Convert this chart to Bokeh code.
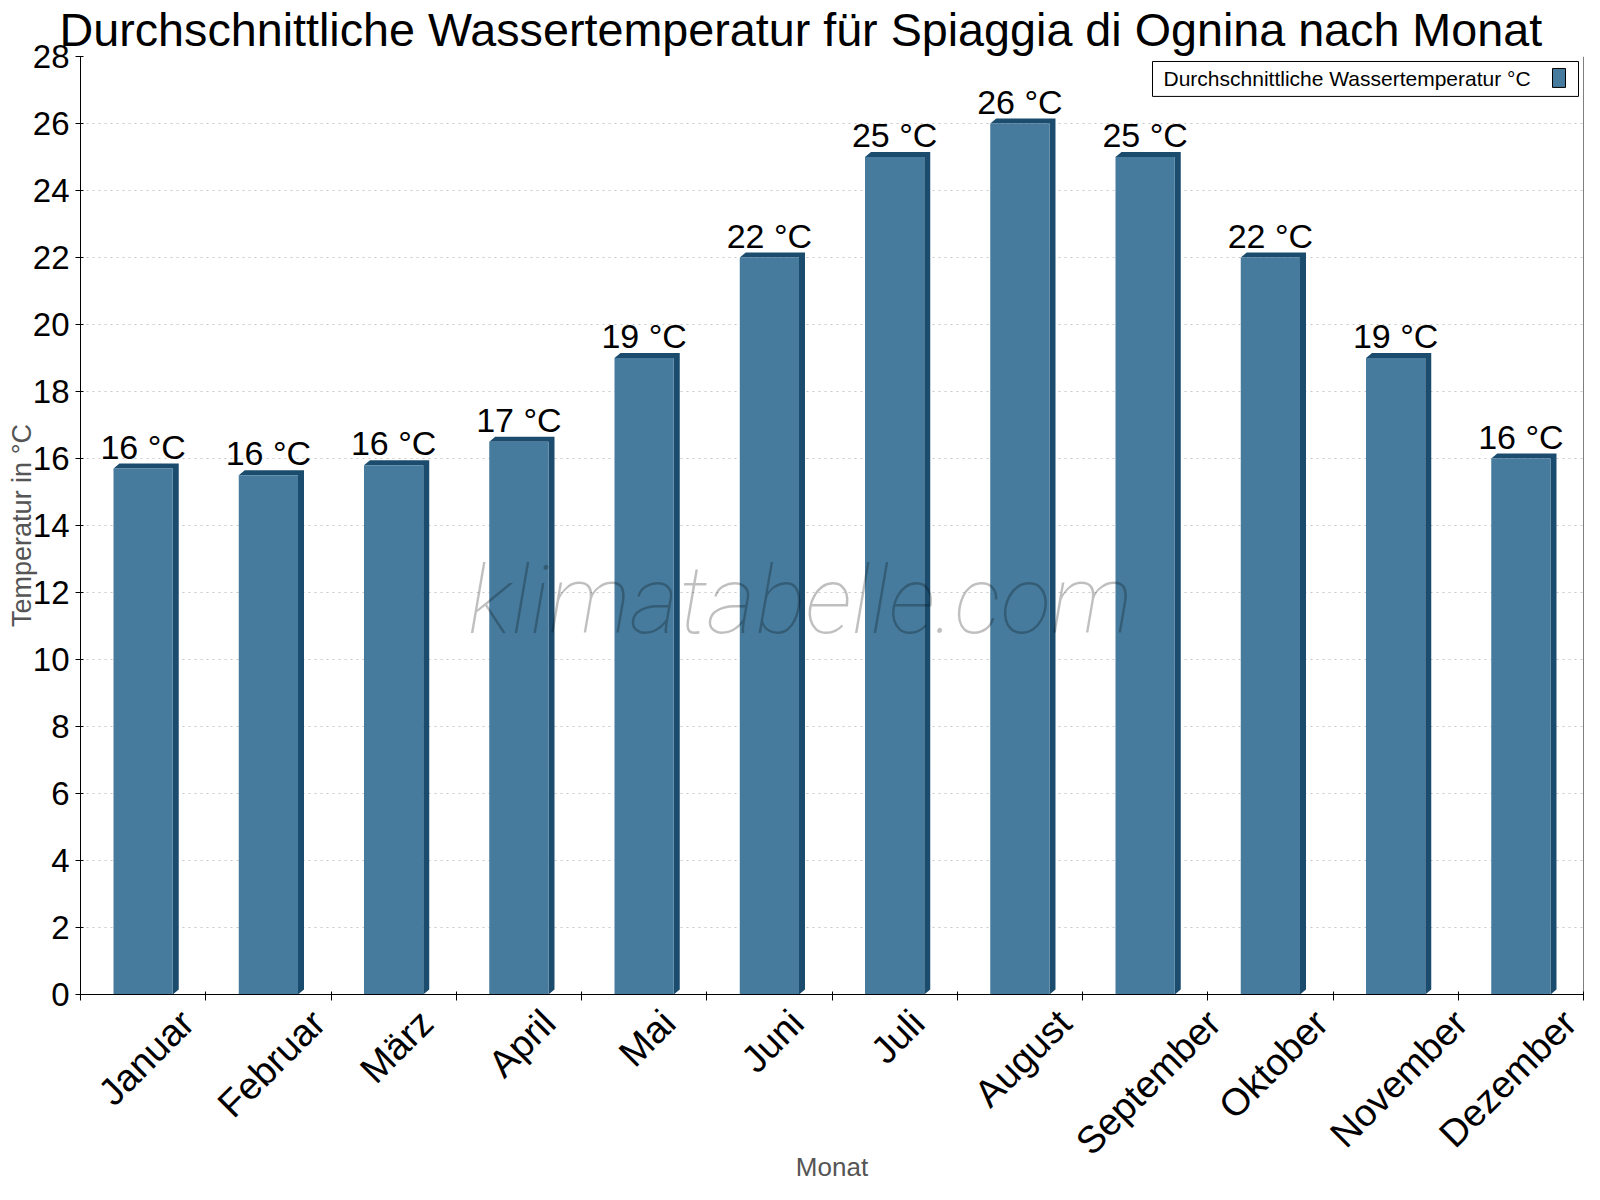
import numpy as np
from bokeh.plotting import figure
from bokeh.models import (Range1d, FixedTicker, ColumnDataSource, LabelSet, Label,
                          Span, BoxAnnotation)
from bokeh.core.properties import value
from bokeh.embed import file_html
from bokeh.resources import INLINE

# ---------------- data ----------------
months = ["Januar", "Februar", "März", "April", "Mai", "Juni", "Juli",
          "August", "September", "Oktober", "November", "Dezember"]
water_temp = [15.7, 15.5, 15.8, 16.5, 19.0, 22.0, 25.0, 26.0, 25.0, 22.0, 19.0, 16.0]
y_ticks = list(range(0, 29, 2))
title_text = "Durchschnittliche Wassertemperatur für Spiaggia di Ognina nach Monat"
series_name = "Durchschnittliche Wassertemperatur °C"
x_axis_title = "Monat"
y_axis_title = "Temperatur in °C"
watermark = "klimatabelle.com"

# ---------------- style ----------------
FONT = "Liberation Sans"
FRONT = "#467b9d"
SIDE = "#1b4c6e"
FIG_W, FIG_H = 1584, 1184
B_LEFT, B_RIGHT, B_TOP, B_BOTTOM = 80, 1, 55, 189
FRAME_W = FIG_W - B_LEFT - B_RIGHT
FRAME_H = FIG_H - B_TOP - B_BOTTOM
N = len(months)
Y_MAX = 28
PX_X = FRAME_W / N
PX_Y = FRAME_H / Y_MAX
BAR_W = 0.473
DX = 6 / PX_X
DY = 5 / PX_Y
XLAB_SIZE = 38      # px, month labels

# Arial / Liberation Sans advance widths (1/1000 em), used to centre the rotated labels
ADV = {"J": 500, "a": 556, "n": 556, "u": 556, "r": 333, "F": 611, "e": 556, "b": 556,
       "M": 833, "ä": 556, "z": 500, "A": 667, "p": 556, "i": 222, "l": 222, "g": 556,
       "s": 500, "t": 278, "S": 667, "m": 833, "O": 778, "k": 500, "o": 556, "N": 722,
       "v": 500, "D": 722}

centers = [i + 0.5 for i in range(N)]
labels = [f"{int(np.floor(v + 0.5))} °C" for v in water_temp]

p = figure(width=FIG_W, height=FIG_H, output_backend="svg", toolbar_location=None,
           x_range=Range1d(0, N), y_range=Range1d(0, Y_MAX),
           min_border_left=B_LEFT, min_border_right=B_RIGHT,
           min_border_top=B_TOP, min_border_bottom=B_BOTTOM,
           outline_line_color=None, background_fill_color="white")

# title (shifted left so it is centred on the page like the reference)
p.title.text = title_text
p.title.text_font = FONT
p.title.text_font_size = "46.7px"
p.title.text_font_style = "normal"
p.title.text_color = "black"
p.title.align = "left"
p.title.offset = -21
p.title.standoff = 2

# grid
p.xgrid.grid_line_color = None
p.ygrid.ticker = FixedTicker(ticks=y_ticks)
p.ygrid.grid_line_color = "#c8c8c8"
p.ygrid.grid_line_dash = "2 4"

# y axis
p.yaxis.ticker = FixedTicker(ticks=y_ticks)
p.yaxis.axis_label = y_axis_title
p.yaxis.axis_label_text_font = FONT
p.yaxis.axis_label_text_font_size = "27px"
p.yaxis.axis_label_text_font_style = "normal"
p.yaxis.axis_label_text_color = "#555555"
p.yaxis.axis_label_standoff = -7
p.yaxis.major_label_text_font = FONT
p.yaxis.major_label_text_font_size = "33px"
p.yaxis.major_label_text_color = "black"
p.yaxis.major_label_standoff = 6
p.yaxis.major_tick_in = 3
p.yaxis.major_tick_out = 5
p.yaxis.minor_tick_line_color = None
p.yaxis.axis_line_color = "black"
p.yaxis.major_tick_line_color = "black"

# x axis: tick marks at category boundaries (minor ticks); month labels rotated 45°
# and shifted so that each rotated label is centred under its bar
widths = [sum(ADV.get(ch, 556) for ch in m) * XLAB_SIZE / 1000 for m in months]
label_pos = [round(min(c + (0.354 * w + 3) / PX_X, N - 0.001), 4)
             for c, w in zip(centers, widths)]
p.xaxis.ticker = FixedTicker(ticks=label_pos, minor_ticks=list(range(N + 1)))
p.xaxis.major_label_overrides = {pos: m for pos, m in zip(label_pos, months)}
p.xaxis.major_tick_line_color = None
p.xaxis.major_tick_out = 6
p.xaxis.major_tick_in = 0
p.xaxis.minor_tick_line_color = "black"
p.xaxis.minor_tick_in = 3
p.xaxis.minor_tick_out = 6
p.xaxis.major_label_orientation = np.pi / 4
p.xaxis.major_label_text_font = FONT
p.xaxis.major_label_text_font_size = f"{XLAB_SIZE}px"
p.xaxis.major_label_text_color = "black"
p.xaxis.major_label_standoff = 16
p.xaxis.axis_label = x_axis_title
p.xaxis.axis_label_text_font = FONT
p.xaxis.axis_label_text_font_size = "26px"
p.xaxis.axis_label_text_font_style = "normal"
p.xaxis.axis_label_text_color = "#555555"
p.xaxis.axis_label_standoff = -29
p.xaxis.axis_line_color = "black"

# right border line
p.add_layout(Span(location=N, dimension="height", line_color="black", line_width=1))

# 3D-style bars: shadow (side + top) then front face
half = BAR_W / 2
xs = [[c + half, c + half + DX, c + half + DX, c - half + DX, c - half, c + half] for c in centers]
ys = [[0, DY, t + DY, t + DY, t, t] for t in water_temp]
p.patches(xs, ys, fill_color=SIDE, line_color=None)
p.vbar(x=centers, top=water_temp, bottom=0, width=BAR_W, fill_color=FRONT, line_color=None)

# value labels
src = ColumnDataSource(dict(x=centers, y=water_temp, text=labels))
p.add_layout(LabelSet(x="x", y="y", text="text", source=src, y_offset=10,
                      text_align="center", text_baseline="alphabetic",
                      text_font=value(FONT), text_font_size=value("34px"), text_color="black"))

# watermark
p.add_layout(Label(x=N * 0.479, y=11.75, text=watermark, text_align="center",
                   text_baseline="middle",
                   text_font="'Roboto Thin', 'Roboto Light', Roboto, sans-serif",
                   text_font_style="italic", text_font_size="94px",
                   text_color="black", text_alpha=0.25))

# legend (text then swatch, as in the reference)
def px_x(px):
    return px / PX_X

def px_y_top(px):
    return Y_MAX - px / PX_Y

p.add_layout(BoxAnnotation(left=px_x(FRAME_W - 431), right=px_x(FRAME_W - 5),
                           top=px_y_top(5), bottom=px_y_top(40),
                           fill_color="white", fill_alpha=1.0,
                           line_color="black", line_alpha=1.0, line_width=1))
p.add_layout(BoxAnnotation(left=px_x(FRAME_W - 31), right=px_x(FRAME_W - 18),
                           top=px_y_top(12), bottom=px_y_top(31),
                           fill_color=FRONT, fill_alpha=1.0,
                           line_color="black", line_alpha=1.0, line_width=1))
p.add_layout(Label(x=px_x(FRAME_W - 420), y=px_y_top(22.5), text=series_name, text_align="left",
                   text_baseline="middle", text_font=FONT, text_font_size="21px",
                   text_color="black"))

open("out.html", "w").write(file_html(p, INLINE))
